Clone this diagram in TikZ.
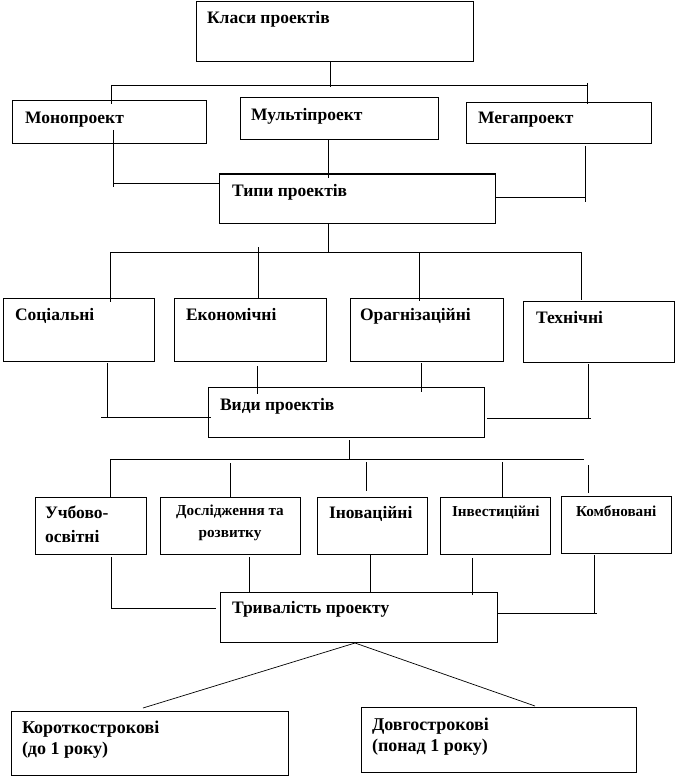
\documentclass[tikz,border=0pt]{standalone}
\usepackage{fontspec}
\setmainfont{Liberation Serif}
\begin{document}
\begin{tikzpicture}[x=1pt,y=-1pt,
  box/.style={draw, line width=1pt, inner sep=0pt, outer sep=0pt, anchor=north west},
  conn/.style={line width=0.9pt},
  thin/.style={line width=0.7pt},
  tx/.style={inner sep=0pt, outer sep=0pt, anchor=base west, font=\fontsize{17.5}{21}\selectfont\bfseries},
  txs/.style={inner sep=0pt, outer sep=0pt, anchor=base west, font=\fontsize{15.2}{18}\selectfont\bfseries},
  txm/.style={inner sep=0pt, outer sep=0pt, anchor=north west, align=left, font=\fontsize{17.5}{24}\selectfont\bfseries},
  txsm/.style={inner sep=0pt, outer sep=0pt, anchor=north, align=center, font=\fontsize{15.2}{22}\selectfont\bfseries},
  txl/.style={inner sep=0pt, outer sep=0pt, anchor=north west, align=left, font=\fontsize{18}{21}\selectfont\bfseries}]
\useasboundingbox (0,0) rectangle (676,778);
\fill[white] (0,0) rectangle (676,778);

% boxes
\node[box, minimum width=277pt, minimum height=60pt] (klasi) at (196,2) {};
\node[box, minimum width=194pt, minimum height=43pt] (mono) at (12,101) {};
\node[box, minimum width=198pt, minimum height=42pt] (multi) at (240,98) {};
\node[box, minimum width=185pt, minimum height=41pt] (mega) at (466,103) {};
\node[box, minimum width=276pt, minimum height=49pt] (typy) at (219,174) {};
\node[box, minimum width=151pt, minimum height=63pt] (soc) at (3,298) {};
\node[box, minimum width=152pt, minimum height=63pt] (eko) at (174,298) {};
\node[box, minimum width=153pt, minimum height=63pt] (org) at (350,298) {};
\node[box, minimum width=151pt, minimum height=61pt] (tech) at (523,301) {};
\node[box, minimum width=276pt, minimum height=50pt] (vydy) at (208,387) {};
\node[box, minimum width=111pt, minimum height=57pt] (uch) at (35,497) {};
\node[box, minimum width=140pt, minimum height=57pt] (dosl) at (160,497) {};
\node[box, minimum width=110pt, minimum height=57pt] (inov) at (317,497) {};
\node[box, minimum width=110pt, minimum height=57pt] (inv) at (440,497) {};
\node[box, minimum width=110pt, minimum height=57pt] (komb) at (561,496) {};
\node[box, minimum width=277pt, minimum height=50pt] (tryv) at (220,592) {};
\node[box, minimum width=277pt, minimum height=64pt] (korot) at (11,711) {};
\node[box, minimum width=275pt, minimum height=65pt] (dovg) at (361,707) {};

% texts
\node[tx] (klasi-t) at (207,24) {Класи проектів};
\node[tx] (mono-t) at (25,124) {Монопроект};
\node[tx] (multi-t) at (251,121) {Мультіпроект};
\node[tx] (mega-t) at (478,124) {Мегапроект};
\node[tx] (typy-t) at (232,196) {Типи проектів};
\node[tx] (soc-t) at (15,320) {Соціальні};
\node[tx] (eko-t) at (186,320) {Економічні};
\node[tx] (org-t) at (360,320) {Орагнізаційні};
\node[tx] (tech-t) at (536,323) {Технічні};
\node[tx] (vydy-t) at (220,410) {Види проектів};
\node[txm] (uch-t) at (45,506) {Учбово-\\освітні};
\node[txsm] (dosl-t) at (230,505) {Дослідження та\\розвитку};
\node[tx] (inov-t) at (329,518) {Іноваційні};
\node[txs] (inv-t) at (452,516) {Інвестиційні};
\node[txs] (komb-t) at (576,516) {Комбновані};
\node[tx] (tryv-t) at (232,613) {Тривалість проекту};
\node[txl] (korot-t) at (22,721) {Короткострокові\\(до 1 року)};
\node[txl] (dovg-t) at (372,718) {Довгострокові\\(понад 1 року)};

% level 1
\coordinate (b1l) at (111,85);
\coordinate (b1r) at (587,85);
\coordinate (b1m) at (330,85);
\draw[conn] (b1l) -- (b1r);
\draw[conn] (klasi.south -| b1m) -- ([yshift=-2pt]b1m);
\draw[conn] (b1l) -- ([yshift=-3pt]mono.north -| b1l);
\draw[conn] ([yshift=2pt]b1r) -- ([yshift=-1pt]mega.north -| b1r);

\coordinate (t1) at (113,183);
\coordinate (t2x) at (328,0);
\coordinate (t3) at (585,197);
\draw[conn] ([yshift=14pt]mono.south -| t1) -- ([yshift=-4pt]t1);
\draw[conn] (t1) -- (typy.west |- t1);
\draw[conn] (multi.south -| t2x) -- ([yshift=-4pt]typy.north -| t2x);
\draw[conn] ([yshift=-2pt]mega.south -| t3) -- ([yshift=-5pt]t3);
\draw[conn] (typy.east |- t3) -- (t3);

% level 2
\coordinate (b2m) at (328,252);
\coordinate (b2l) at (110,252);
\coordinate (b2r) at (581,252);
\coordinate (d2) at (258,247);
\coordinate (d3) at (419,252);
\draw[conn] (typy.south -| b2m) -- (b2m);
\draw[conn] (b2l) -- (b2r);
\draw[conn] (b2l) -- ([yshift=-4pt]soc.north -| b2l);
\draw[conn] (d2) -- (eko.north -| d2);
\draw[conn] (d3) -- ([yshift=-3pt]org.north -| d3);
\draw[conn] (b2r) -- ([yshift=1pt]tech.north -| b2r);

\coordinate (v1) at (107,417);
\coordinate (v1w) at (101,417);
\coordinate (v2x) at (257,0);
\coordinate (v3x) at (421,0);
\coordinate (v4) at (588,418);
\coordinate (v4e) at (591,418);
\draw[conn] ([yshift=-2pt]soc.south -| v1) -- (v1);
\draw[conn] (v1w) -- ([xshift=3pt]vydy.west |- v1w);
\draw[conn] ([yshift=-5pt]eko.south -| v2x) -- ([yshift=-7pt]vydy.north -| v2x);
\draw[conn] ([yshift=-2pt]org.south -| v3x) -- ([yshift=-5pt]vydy.north -| v3x);
\draw[conn] ([yshift=-2pt]tech.south -| v4) -- (v4);
\draw[conn] ([xshift=3pt]vydy.east |- v4) -- (v4e);

% level 3
\coordinate (b3m) at (349,459);
\coordinate (b3l) at (110,459);
\coordinate (b3r) at (584,459);
\coordinate (e2) at (230,463);
\coordinate (e3) at (366,462);
\coordinate (e4) at (502,462);
\coordinate (e5) at (588,465);
\draw[conn] ([yshift=-3pt]vydy.south -| b3m) -- (b3m);
\draw[conn] (b3l) -- (b3r);
\draw[conn] (b3l) -- ([yshift=-1pt]uch.north -| b3l);
\draw[conn] (e2) -- (dosl.north -| e2);
\draw[conn] (e3) -- ([yshift=6pt]inov.north -| e3);
\draw[conn] (e4) -- (inv.north -| e4);
\draw[conn] (e5) -- ([yshift=3pt]komb.north -| e5);

\coordinate (r1) at (111,608);
\coordinate (r2x) at (249,0);
\coordinate (r3x) at (370,0);
\coordinate (r4x) at (472,0);
\coordinate (r5) at (594,613);
\coordinate (r5e) at (597,613);
\draw[conn] ([yshift=-3pt]uch.south -| r1) -- (r1) -- ([xshift=-4pt]tryv.west |- r1);
\draw[conn] ([yshift=-3pt]dosl.south -| r2x) -- ([yshift=-1pt]tryv.north -| r2x);
\draw[conn] (inov.south -| r3x) -- (tryv.north -| r3x);
\draw[conn] ([yshift=-4pt]inv.south -| r4x) -- ([yshift=-3pt]tryv.north -| r4x);
\draw[conn] ([yshift=-2pt]komb.south -| r5) -- (r5);
\draw[conn] (tryv.east |- r5) -- (r5e);

% bottom
\coordinate (top) at (355,643);
\coordinate (k1x) at (143,0);
\coordinate (k2x) at (535,0);
\draw[thin] (top) -- ([yshift=3pt]korot.north -| k1x);
\draw[thin] (top) -- ([yshift=1pt]dovg.north -| k2x);
\end{tikzpicture}
\end{document}
